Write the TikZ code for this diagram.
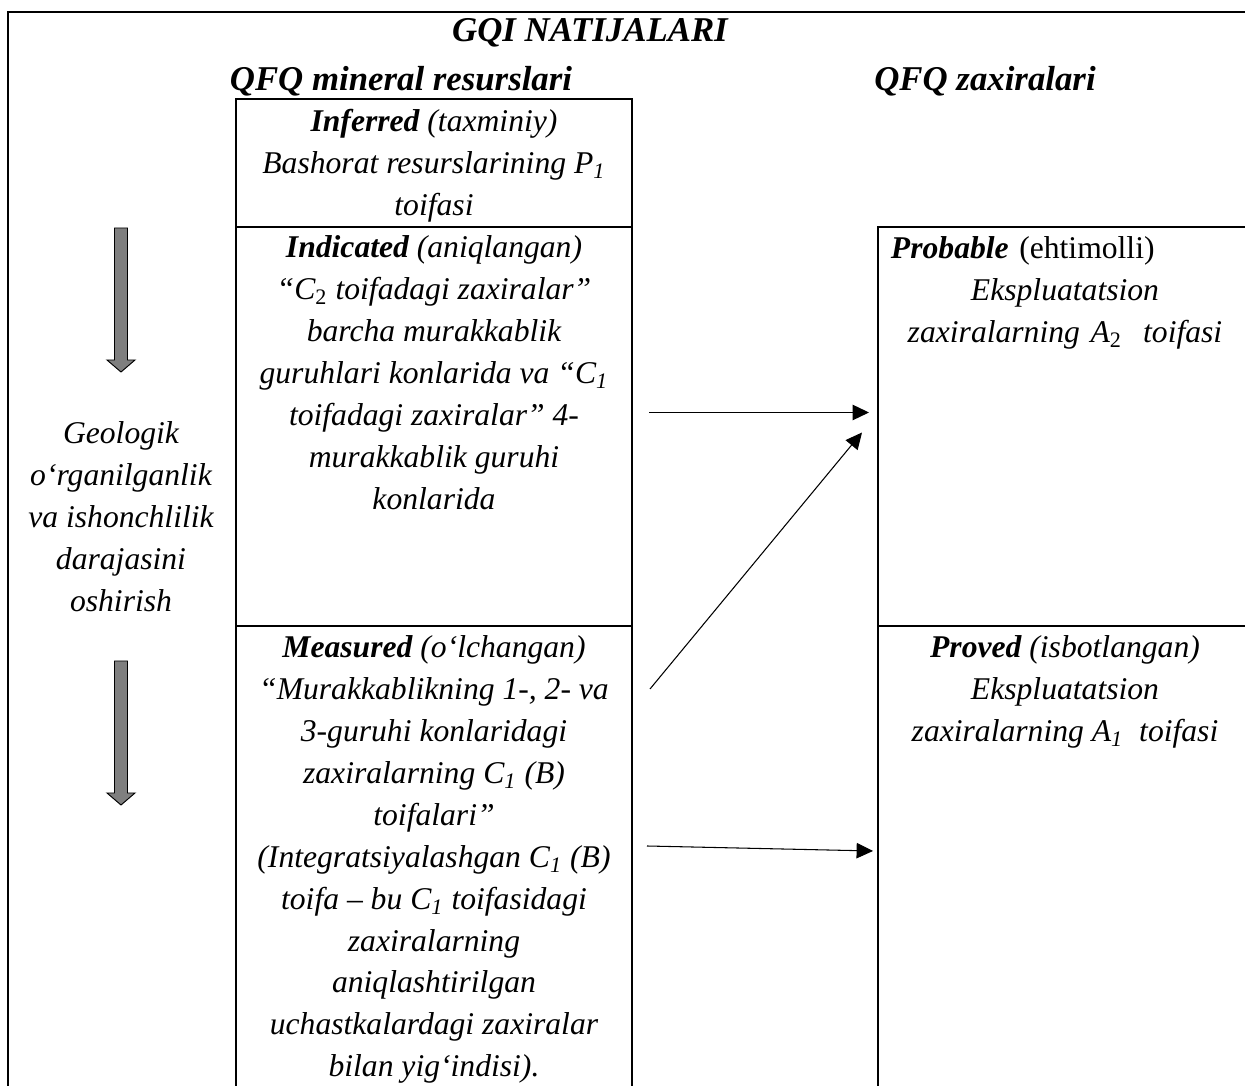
\documentclass[tikz,border=0pt]{standalone}
\usepackage{fontspec}
\setmainfont{Liberation Serif}
\usepackage{tikz}
\usetikzlibrary{positioning,arrows.meta,calc}
\definecolor{gqgray}{HTML}{7F7F7F}
\newcommand{\pxu}{0.015cm}
\newcommand{\bodyfont}{\fontsize{13.5}{17.9}\selectfont\itshape}
\newcommand{\headfont}{\fontsize{14.85}{17.9}\selectfont\bfseries\itshape}
\tikzset{
  outerframe/.style={draw, line width=0.8pt},
  cell/.style      ={draw, line width=0.8pt, inner sep=0pt, outer sep=0pt,
                     anchor=north west, minimum width=396*\pxu},
  rcell/.style     ={cell, minimum width=374*\pxu},
  celltext/.style  ={font=\bodyfont, align=center, inner sep=0pt, anchor=north},
  heading/.style   ={font=\headfont, inner sep=0pt, anchor=base},
  link/.style      ={-{Triangle[length=7pt,width=6.6pt]}, line width=0.45pt},
  blockarrow/.style={fill=gqgray, draw=black, line width=0.4pt},
}
\newcommand{\levelarrow}[2]{% centre x, top y
  \draw[blockarrow] (#1-6.5,#2) -- (#1+6.5,#2) -- (#1+6.5,#2+132) -- (#1+14,#2+132)
    -- (#1,#2+144) -- (#1-14,#2+132) -- (#1-6.5,#2+132) -- cycle;}

\begin{document}
\begin{tikzpicture}[x=\pxu, y=-\pxu]
  \useasboundingbox (0,0) rectangle (1245,1086);
  \clip (0,0) rectangle (1245,1086);
  \draw[outerframe] (8,12) rectangle (1260,1120);
  \node[heading] (title)   at (590,42) {GQI NATIJALARI};
  \node[heading] (reshead) at (401,91) {QFQ mineral resurslari};
  \node[heading] (zaxhead) at (985,91) {QFQ zaxiralari};

  \node[cell, minimum height=128*\pxu] (inferred) at (236,99) {};
  \node[cell, minimum height=399*\pxu, below=0pt of inferred] (indicated) {};
  \node[cell, minimum height=500*\pxu, below=0pt of indicated] (measured) {};
  \node[rcell, minimum height=399*\pxu] (probable) at (878,227) {};
  \node[rcell, minimum height=500*\pxu, below=0pt of probable] (proved) {};

  \node[celltext] (inftext) at ($(inferred.north)+(0,10)$)
    {\textbf{Inferred} (taxminiy)\\ Bashorat resurslarining P\textsubscript{1}\\ toifasi};
  \node[celltext] (indtext) at ($(indicated.north)+(0,8)$)
    {\textbf{Indicated} (aniqlangan)\\
     “C\textsubscript{\upshape 2} toifadagi zaxiralar”\\
     barcha murakkablik\\
     guruhlari konlarida va “C\textsubscript{1}\\
     toifadagi zaxiralar” 4-\\
     murakkablik guruhi\\
     konlarida};
  \node[celltext] (meatext) at ($(measured.north)+(0,9)$)
    {\textbf{Measured} (o‘lchangan)\\
     “Murakkablikning 1-, 2- va\\
     3-guruhi konlaridagi\\
     zaxiralarning C\textsubscript{1} (B)\\
     toifalari”\\
     (Integratsiyalashgan C\textsubscript{1} (B)\\
     toifa – bu C\textsubscript{1} toifasidagi\\
     zaxiralarning\\
     aniqlashtirilgan\\
     uchastkalardagi zaxiralar\\
     bilan yig‘indisi).};
  \node[celltext, text width=5.22cm] (probtext) at ($(probable.north)+(0,9)$)
    {\makebox[5.22cm][l]{{\bfseries Probable} {\upshape(ehtimolli)}}\\
     Ekspluatatsion\\
     zaxiralarning A\textsubscript{\upshape 2}\ \ toifasi};
  \node[celltext] (provtext) at ($(proved.north)+(0,9)$)
    {\textbf{Proved} (isbotlangan)\\
     Ekspluatatsion\\
     zaxiralarning A\textsubscript{1}\ \ toifasi};

  \node[celltext] (growtext) at (121,421)
    {Geologik\\ o‘rganilganlik\\ va ishonchlilik\\ darajasini\\ oshirish};
  \levelarrow{121}{228}
  \levelarrow{121}{661}

  \draw[link] ($(indicated.east)+(17,-14)$) -- ($(probable.west)+(-9,-14)$);
  \draw[link] ($(measured.north east)+(18,63)$) -- ($(probable.west)+(-16,6)$);
  \draw[link] ($(measured.north east)+(15,220)$) -- ($(proved.north west)+(-5,225)$);
\end{tikzpicture}
\end{document}
